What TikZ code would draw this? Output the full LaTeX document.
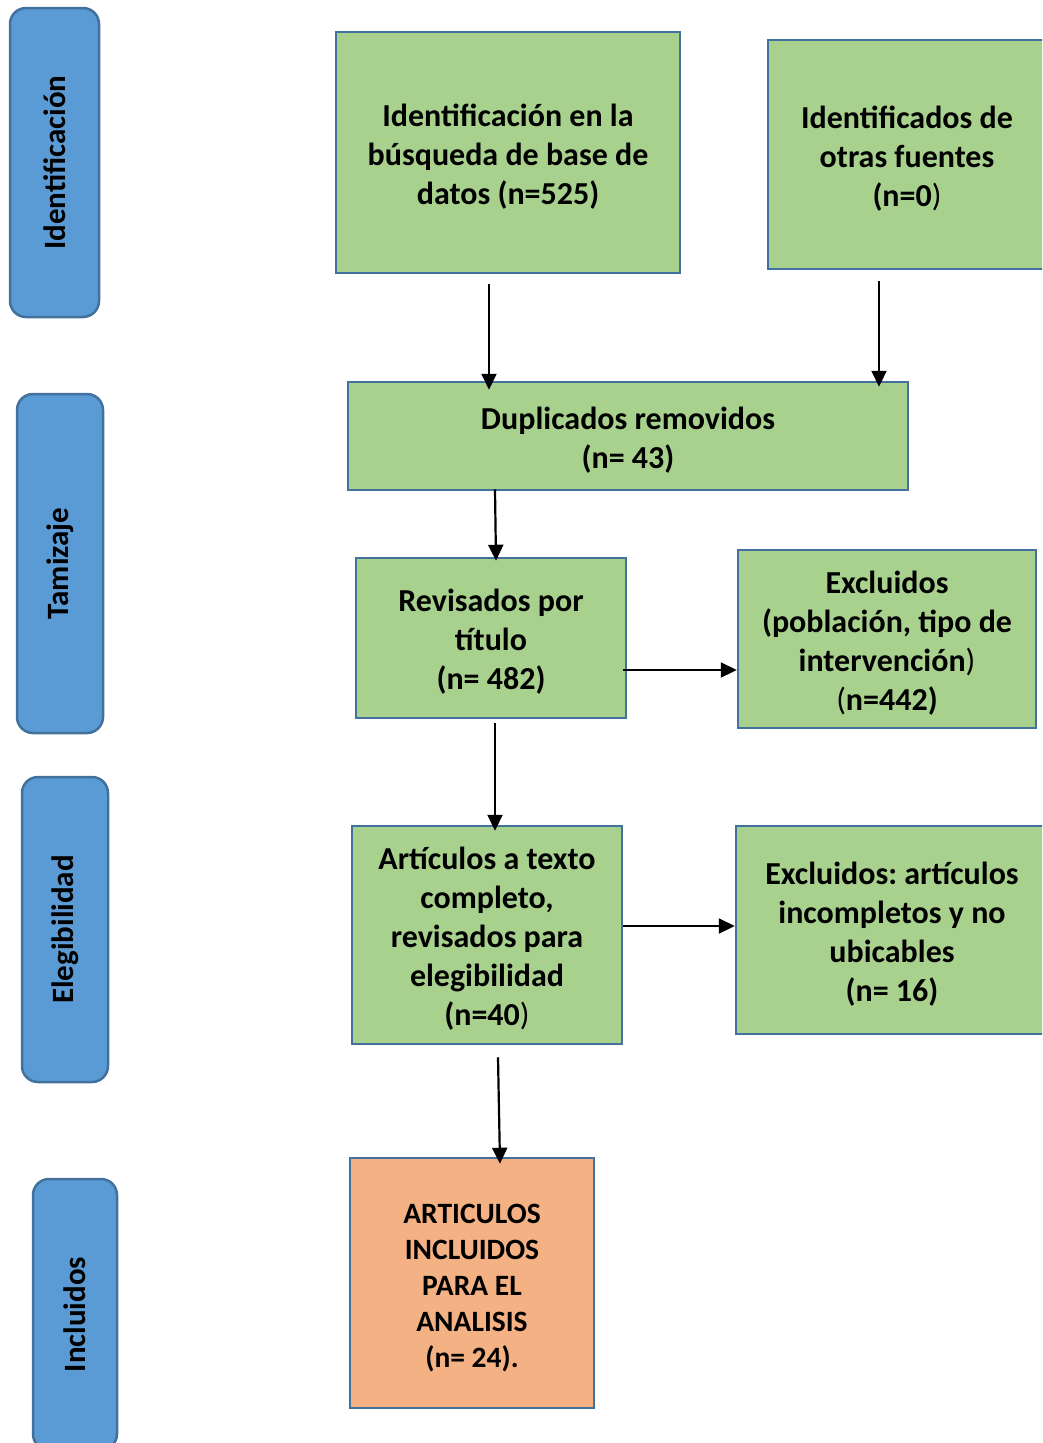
\documentclass[tikz,border=0pt]{standalone}
\usepackage{fontspec}
\setmainfont{Carlito}
\usetikzlibrary{arrows.meta,calc}
\definecolor{boxgreen}{HTML}{A9D18E}
\definecolor{boxorange}{HTML}{F4B183}
\definecolor{lanefill}{HTML}{5B9BD5}
\definecolor{edgeblue}{HTML}{41719C}
\newcommand\topbump[1]{\rule{0pt}{#1}}
\frenchspacing
\tikzset{
  gbox/.style={draw=edgeblue, line width=2.5pt, fill=boxgreen, rectangle, align=center, inner sep=0pt,
    font=\bfseries\fontsize{32}{39}\selectfont},
  obox/.style={draw=edgeblue, line width=2.5pt, fill=boxorange, rectangle, align=center, inner sep=0pt,
    font=\bfseries\fontsize{29.5}{36}\selectfont},
  lane/.style={draw=edgeblue, line width=2.5pt, fill=lanefill, rectangle, rounded corners=16pt, inner sep=0pt},
  lanetext/.style={rotate=90, font=\bfseries\fontsize{31}{38}\selectfont},
  arr/.style={line width=2.2pt, -{Triangle[length=16pt,width=15pt]}}
}
\begin{document}
\begin{tikzpicture}[x=1pt,y=-1pt]
\useasboundingbox (0,0) rectangle (1042,1443);
\clip (0,0) rectangle (1042,1443);
% lanes
\node[lane, minimum width=89pt, minimum height=309pt] (l1) at (54.5,162.5) {};
\node[lanetext] (t1) at (l1.center) {Identificación};
\node[lane, minimum width=86pt, minimum height=339pt] (l2) at (60,563.5) {};
\node[lanetext] (t2) at (l2.center) {Tamizaje};
\node[lane, minimum width=86pt, minimum height=305pt] (l3) at (65,929.5) {};
\node[lanetext] (t3) at (l3.center) {Elegibilidad};
\node[lane, minimum width=84pt, minimum height=271pt] (l4) at (75,1314.5) {};
\node[lanetext] (t4) at (l4.center) {Incluidos};
% boxes
\node[gbox, minimum width=344pt, minimum height=241pt] (b1) at (508,152.5) {\topbump{31pt}Identificación en la\\búsqueda de base de\\datos (n=525)};
\node[gbox, minimum width=278pt, minimum height=229pt] (b2) at (907,154.5) {\topbump{31pt}Identificados de\\otras fuentes\\(n=0\textmd{)}};
\node[gbox, minimum width=560pt, minimum height=108pt] (b3) at (628,436) {\topbump{30pt}Duplicados removidos\\(n= 43)};
\node[gbox, minimum width=270pt, minimum height=160pt] (b4) at (491,638) {\topbump{30pt}Revisados por\\título\\(n= 482)};
\node[gbox, minimum width=298pt, minimum height=178pt] (b5) at (887,639) {\topbump{30pt}Excluidos\\(población, tipo de\\intervención\textmd{)}\\\textmd{(}n=442)};
\node[gbox, minimum width=270pt, minimum height=218pt] (b6) at (487,935) {\topbump{30pt}Artículos a texto\\completo,\\revisados para\\elegibilidad\\(n=40\textmd{)}};
\node[gbox, minimum width=312pt, minimum height=208pt] (b7) at (892,930) {\topbump{31pt}Excluidos: artículos\\incompletos y no\\ubicables\\(n= 16)};
\node[obox, minimum width=244pt, minimum height=250pt] (b8) at (472,1283) {\topbump{29pt}ARTICULOS\\INCLUIDOS\\PARA EL\\ANALISIS\\(n= 24).};
% arrows
\draw[arr] ($(b1.south)+(-19,10)$) -- ($(b3.north)+(-139,9)$);
\draw[arr] ($(b2.south)+(-28,11)$) -- ($(b3.north)+(251,6)$);
\draw[arr] ($(b3.south)+(-133,-2)$) -- ($(b4.north)+(5,4)$);
\draw[arr] ($(b4.east)+(-4,32)$) -- ($(b5.west)+(0,31)$);
\draw[arr] ($(b4.south)+(4,4)$) -- ($(b6.north)+(8,6)$);
\draw[arr] ($(b6.east)+(0,-9)$) -- ($(b7.west)+(0,-4)$);
\draw[arr] ($(b6.south)+(11,12)$) -- ($(b8.north)+(28,7)$);
\end{tikzpicture}
\end{document}
